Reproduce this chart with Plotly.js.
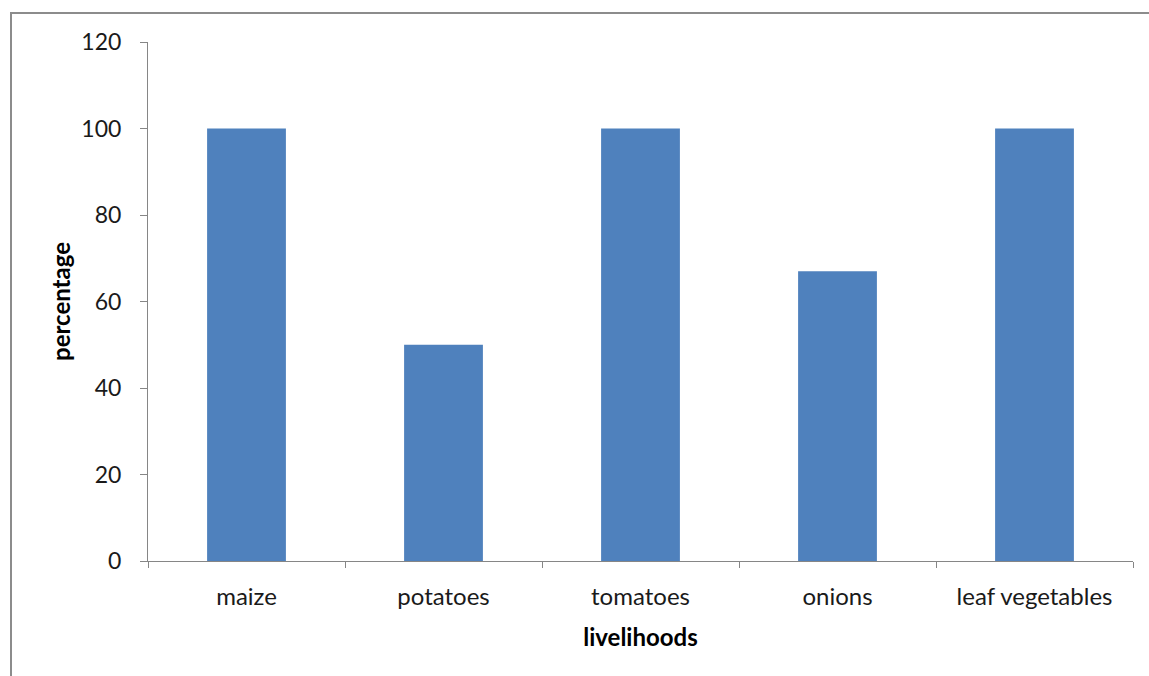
<!DOCTYPE html>
<html><head><meta charset="utf-8">
<script src="https://cdn.plot.ly/plotly-3.0.1.min.js"></script>
<style>
html,body{margin:0;padding:0;background:#fff;overflow:hidden;}
.edge{position:absolute;background:#8c8c8c;pointer-events:none;z-index:5;}
#chart{position:absolute;left:0;top:0;width:1149px;height:676px;}
</style></head>
<body>
<div id="chart"></div>
<div class="edge" style="left:10px;top:12px;width:1139px;height:2px;"></div>
<div class="edge" style="left:10px;top:12px;width:2px;height:664px;"></div>
<script>
const categories = ["maize", "potatoes", "tomatoes", "onions", "leaf vegetables"];
const percentages = [100, 50, 100, 67, 100];
const yTicks = [0, 20, 40, 60, 80, 100, 120];

const font = "Lato, 'Open Sans', sans-serif";
Plotly.newPlot("chart", [{
  type: "bar",
  x: categories,
  y: percentages,
  marker: {color: "#4f81bd"},
  hoverinfo: "x+y"
}], {
  width: 1149, height: 676,
  margin: {l: 148, r: 16, t: 42, b: 115},
  paper_bgcolor: "#fff", plot_bgcolor: "#fff",
  bargap: 0.6,
  showlegend: false,
  xaxis: {
    showline: true, linecolor: "#868686", linewidth: 1,
    ticks: "outside", tickson: "boundaries", ticklen: 6, tickcolor: "#868686",
    ticklabelstandoff: 14,
    tickfont: {family: font, size: 24, color: "#1a1a1a"},
    title: {text: "<b>livelihoods</b>", font: {family: font, size: 24, color: "#000"}, standoff: 20},
    fixedrange: true
  },
  yaxis: {
    range: [0, 120], tickvals: yTicks, ticktext: yTicks.map(String),
    showgrid: false, zeroline: false,
    showline: true, linecolor: "#868686", linewidth: 1,
    ticks: "outside", ticklen: 7, tickcolor: "#868686",
    ticklabelstandoff: 14,
    tickfont: {family: font, size: 23, color: "#1a1a1a"},
    title: {text: "<b>percentage</b>", font: {family: font, size: 24, color: "#000"}, standoff: 3},
    fixedrange: true
  }
}, {displayModeBar: false, staticPlot: true});
</script>
</body></html>
